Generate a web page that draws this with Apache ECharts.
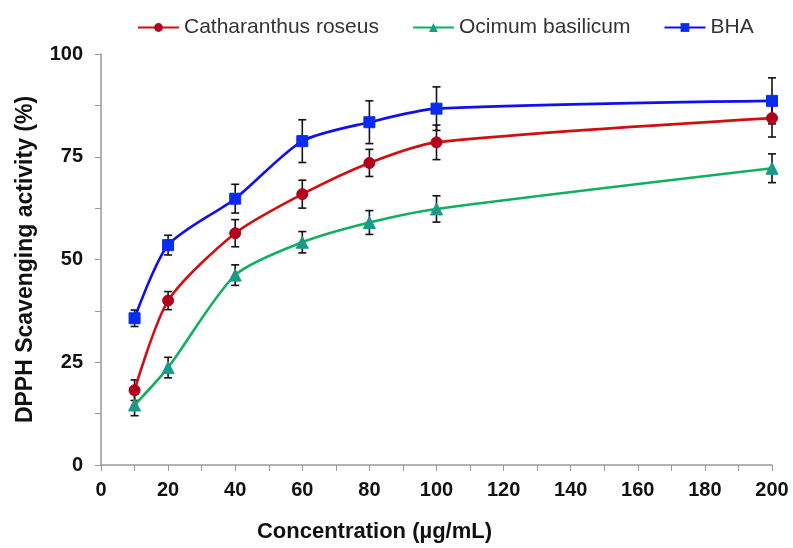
<!DOCTYPE html>
<html>
<head>
<meta charset="utf-8">
<script src="https://cdn.jsdelivr.net/npm/echarts@6/dist/echarts.min.js"></script>
<style>
  html, body { margin: 0; padding: 0; background: #fff; }
  #chart { width: 793px; height: 548px; }
</style>
</head>
<body>
<div id="chart"></div>
<script>
const concentrations = [10, 20, 40, 60, 80, 100, 200]
const roseus = [18.2, 40.0, 56.4, 65.9, 73.5, 78.5, 84.4]
const roseusErr = [2.5, 2.2, 3.3, 3.4, 3.3, 4.2, 4.6]
const basilicum = [14.6, 23.7, 46.2, 54.2, 59.0, 62.3, 72.2]
const basilicumErr = [2.6, 2.5, 2.5, 2.6, 2.9, 3.2, 3.5]
const bha = [35.7, 53.5, 64.8, 78.8, 83.4, 86.7, 88.6]
const bhaErr = [2.0, 2.4, 3.5, 5.2, 5.2, 5.3, 5.6]

const font = 'Liberation Sans, Arial, sans-serif'

function pairs (values) {
  return concentrations.map((c, i) => [c, values[i]])
}

// [x, low, high] for the whiskers
function errRows (values, errs) {
  return concentrations.map((c, i) => [c, values[i] - errs[i], values[i] + errs[i]])
}

function errorSeries (values, errs) {
  return {
    type: 'custom',
    z: 1,
    silent: true,
    data: errRows(values, errs),
    renderItem: function (params, api) {
      const lo = api.coord([api.value(0), api.value(1)])
      const hi = api.coord([api.value(0), api.value(2)])
      const w = 4
      const style = { stroke: '#111', lineWidth: 1.6 }
      return {
        type: 'group',
        children: [
          { type: 'line', shape: { x1: lo[0], y1: lo[1], x2: hi[0], y2: hi[1] }, style: style },
          { type: 'line', shape: { x1: lo[0] - w, y1: lo[1], x2: lo[0] + w, y2: lo[1] }, style: style },
          { type: 'line', shape: { x1: hi[0] - w, y1: hi[1], x2: hi[0] + w, y2: hi[1] }, style: style }
        ]
      }
    }
  }
}

function lineSeries (name, values, lineColor, markColor, symbol, size) {
  return {
    name: name,
    type: 'line',
    z: 3,
    smooth: 0.25,
    data: pairs(values),
    symbol: symbol,
    symbolSize: size,
    lineStyle: { color: lineColor, width: 2.6 },
    itemStyle: { color: markColor, borderColor: markColor },
    emphasis: { disabled: true }
  }
}

const myChart = echarts.init(document.getElementById('chart'))
const option = {
  animation: false,
  backgroundColor: '#fff',
  legend: {
    left: 132,
    top: 12,
    itemWidth: 41,
    itemHeight: 11,
    itemGap: 33,
    textStyle: { fontFamily: font, fontSize: 21, color: '#333' },
    data: ['Catharanthus roseus', 'Ocimum basilicum', 'BHA']
  },
  grid: { left: 101, right: 21, top: 54, bottom: 78 },
  xAxis: {
    type: 'value',
    min: 0,
    max: 200,
    interval: 20,
    name: 'Concentration (µg/mL)',
    nameLocation: 'middle',
    nameGap: 56,
    // the title sits left of the plot centre in the original
    nameTextStyle: { fontFamily: font, fontSize: 22, fontWeight: 'bold', color: '#111', padding: [0, 124, 0, 0] },
    axisLine: { show: true, lineStyle: { color: '#999', width: 1.5 } },
    axisTick: { show: true, length: 6, lineStyle: { color: '#999' } },
    minorTick: { show: true, splitNumber: 2, length: 6, lineStyle: { color: '#999' } },
    splitLine: { show: false },
    axisLabel: { margin: 15, fontFamily: font, fontSize: 20, fontWeight: 'bold', color: '#111' }
  },
  yAxis: {
    type: 'value',
    min: 0,
    max: 100,
    interval: 25,
    name: 'DPPH Scavenging activity (%)',
    nameLocation: 'middle',
    nameGap: 64,
    nameTextStyle: { fontFamily: font, fontSize: 23, fontWeight: 'bold', color: '#111' },
    axisLine: { show: true, lineStyle: { color: '#999', width: 1.5 } },
    axisTick: { show: true, length: 6, lineStyle: { color: '#999' } },
    minorTick: { show: true, splitNumber: 2, length: 6, lineStyle: { color: '#999' } },
    splitLine: { show: false },
    axisLabel: { margin: 18, fontFamily: font, fontSize: 20, fontWeight: 'bold', color: '#111' }
  },
  series: [
    errorSeries(roseus, roseusErr),
    errorSeries(basilicum, basilicumErr),
    errorSeries(bha, bhaErr),
    lineSeries('Catharanthus roseus', roseus, '#d01010', '#b0001e', 'circle', 11),
    lineSeries('Ocimum basilicum', basilicum, '#10b060', '#1a9a88', 'triangle', 12),
    lineSeries('BHA', bha, '#1010ee', '#0a2cf0', 'rect', 11)
  ]
}
myChart.setOption(option)
</script>
</body>
</html>
